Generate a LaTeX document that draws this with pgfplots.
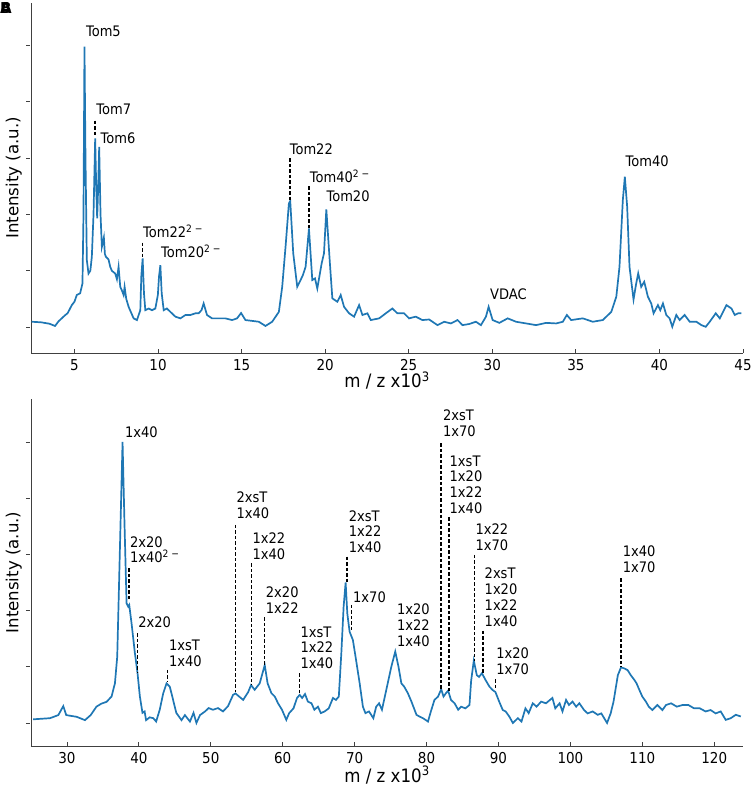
\documentclass[border=0pt]{standalone}
\usepackage{pgfplots}
\pgfplotsset{compat=1.18}
\usepackage{fontspec}
\setmainfont{DejaVu Sans}[FakeStretch=0.9]
\newfontfamily\ylabfont{DejaVu Sans}
\newfontfamily\panelfont{DejaVu Sans Bold}
\definecolor{mplblue}{HTML}{1F77B4}
\newcommand\tf{\fontsize{15}{17}\selectfont}
\newcommand\af{\fontsize{14.5}{15.9}\selectfont}

\pgfplotsset{
  spec/.style={
    scale only axis, width=712pt,
    axis lines*=left,
    axis line style={-, black!75, line width=0.8pt},
    tick align=inside, major tick length=4pt,
    every tick/.style={black!75, line width=0.8pt},
    ytick style={xshift=-5pt},
    ytick={0,0.2,0.4,0.6,0.8,1.0}, yticklabels={},
    /pgf/number format/assume math mode=true,
    xticklabel style={font=\tf, yshift=-3pt},
    ylabel={Intensity (a.u.)},
    ylabel style={font=\ylabfont\fontsize{16.6}{20}\selectfont, at={(axis description cs:-0.024,0.5)}, anchor=center},
    xlabel={m / z x10\textsuperscript{3}},
    xlabel style={font=\fontsize{18.5}{20}\selectfont},
    clip=false,
  },
}
\tikzset{
  ann/.style={anchor=south west, inner sep=0pt, align=left, font=\af},
  dl/.style={dash pattern=on 3.5pt off 2pt, black, line width=1.5pt},
}

\begin{document}
\begin{tikzpicture}
\useasboundingbox (0,0) rectangle (753pt,788pt);
\node[anchor=north west, inner sep=0pt, font=\panelfont\fontsize{15}{15}\selectfont] at (0pt,786pt) {A};
\node[anchor=north west, inner sep=0pt, font=\panelfont\fontsize{15}{15}\selectfont] at (0pt,786pt) {B};

% top panel
\begin{axis}[spec, at={(31pt,435pt)}, anchor=south west, height=350pt,
  xmin=2.4, xmax=45, ymin=-0.092, ymax=1.151,
  xtick={5,10,15,20,25,30,35,40,45},
  xlabel style={at={(axis description cs:0.5,-0.078)}, anchor=center}]
\addplot[mplblue, line width=1.7pt] coordinates {
(2.44,0.019) (3.0,0.017) (3.5,0.012) (3.84,0.004) (4.04,0.02) (4.4,0.04) (4.6,0.05)
(4.84,0.078) (5.0,0.09) (5.14,0.114) (5.34,0.12) (5.48,0.155) (5.54,0.4) (5.60,0.996)
(5.66,0.6) (5.74,0.238) (5.84,0.19) (5.95,0.2) (6.04,0.25) (6.14,0.4) (6.24,0.67)
(6.30,0.5) (6.36,0.386) (6.42,0.5) (6.48,0.64) (6.56,0.4) (6.64,0.285) (6.70,0.3)
(6.76,0.318) (6.82,0.26) (6.88,0.25) (7.04,0.24) (7.14,0.214) (7.24,0.2) (7.44,0.19)
(7.54,0.17) (7.64,0.214) (7.74,0.143) (7.84,0.13) (7.94,0.114) (8.0,0.143) (8.1,0.1)
(8.24,0.072) (8.54,0.031) (8.74,0.025) (8.94,0.06) (9.0,0.18) (9.08,0.244) (9.16,0.12)
(9.24,0.06) (9.44,0.066) (9.64,0.06) (9.84,0.066) (9.99,0.114) (10.06,0.18) (10.14,0.22)
(10.22,0.12) (10.34,0.06) (10.53,0.066) (10.74,0.054) (11.04,0.037) (11.34,0.031)
(11.64,0.043) (11.94,0.043) (12.24,0.049) (12.43,0.049) (12.6,0.06) (12.73,0.084)
(12.93,0.043) (13.23,0.031) (13.63,0.031) (14.03,0.031) (14.43,0.025) (14.73,0.031)
(14.97,0.05) (15.23,0.025) (15.63,0.022) (16.03,0.019) (16.43,0.004) (16.83,0.019)
(17.23,0.054) (17.43,0.143) (17.63,0.285) (17.83,0.439) (17.91,0.448) (18.09,0.262)
(18.33,0.143) (18.53,0.167) (18.67,0.185) (18.83,0.214) (19.03,0.35) (19.23,0.167)
(19.39,0.173) (19.53,0.137) (19.79,0.226) (19.93,0.262) (20.07,0.418) (20.27,0.238)
(20.43,0.102) (20.73,0.09) (20.93,0.114) (21.13,0.072) (21.43,0.049) (21.73,0.037)
(22.03,0.078) (22.23,0.043) (22.53,0.049) (22.73,0.025) (23.23,0.031) (23.63,0.049)
(24.02,0.066) (24.32,0.049) (24.72,0.049) (25.02,0.031) (25.42,0.037) (25.82,0.025)
(26.22,0.027) (26.72,0.007) (27.12,0.019) (27.52,0.013) (27.92,0.025) (28.22,0.007)
(28.62,0.011) (29.02,0.019) (29.32,0.007) (29.62,0.037) (29.78,0.072) (30.02,0.025)
(30.42,0.015) (30.92,0.031) (31.42,0.019) (32.02,0.013) (32.62,0.007) (33.22,0.015)
(33.82,0.013) (34.22,0.019) (34.46,0.043) (34.72,0.025) (35.42,0.031) (36.01,0.019)
(36.61,0.025) (36.82,0.037) (37.12,0.054) (37.42,0.108) (37.61,0.214) (37.81,0.451)
(37.93,0.534) (38.07,0.427) (38.21,0.214) (38.45,0.098) (38.61,0.155) (38.73,0.191)
(38.91,0.143) (39.09,0.161) (39.31,0.108) (39.51,0.084) (39.65,0.049) (39.91,0.078)
(40.05,0.06) (40.21,0.084) (40.41,0.043) (40.61,0.031) (40.77,0.001) (41.01,0.043)
(41.21,0.025) (41.51,0.043) (41.81,0.019) (42.21,0.019) (42.51,0.007) (42.77,0.001)
(43.01,0.019) (43.37,0.049) (43.61,0.031) (44.01,0.078) (44.31,0.066) (44.51,0.043)
(44.71,0.049) (44.91,0.049)
};
\node[ann] at (axis cs:5.68,1.031) {Tom5};
\node[ann] at (axis cs:6.30,0.753) {Tom7};
\draw[dl] (axis cs:6.24,0.733) -- (axis cs:6.24,0.676);
\node[ann] at (axis cs:6.56,0.652) {Tom6};
\node[ann] at (axis cs:9.10,0.315) {Tom22\textsuperscript{2 −}};
\draw[dl] (axis cs:9.08,0.30) -- (axis cs:9.08,0.244);
\node[ann] at (axis cs:10.17,0.244) {Tom20\textsuperscript{2 −}};
\node[ann] at (axis cs:17.87,0.611) {Tom22};
\draw[dl] (axis cs:17.91,0.60) -- (axis cs:17.91,0.451);
\node[ann] at (axis cs:19.07,0.513) {Tom40\textsuperscript{2 −}};
\draw[dl] (axis cs:19.03,0.50) -- (axis cs:19.03,0.35);
\node[ann] at (axis cs:20.07,0.445) {Tom20};
\node[ann] at (axis cs:29.86,0.098) {VDAC};
\node[ann] at (axis cs:37.97,0.57) {Tom40};
\end{axis}

% bottom panel
\begin{axis}[spec, at={(31pt,42pt)}, anchor=south west, height=347pt,
  xmin=25, xmax=124, ymin=-0.082, ymax=1.153,
  xtick={30,40,50,60,70,80,90,100,110,120},
  xlabel style={at={(axis description cs:0.5,-0.084)}, anchor=center}]
\addplot[mplblue, line width=1.7pt] coordinates {
(25.3,0.013) (26.5,0.015) (27.64,0.017) (28.8,0.028) (29.49,0.06) (29.9,0.028)
(30.6,0.025) (31.34,0.022) (32.5,0.01) (33.3,0.028) (34.1,0.058) (34.8,0.069)
(35.5,0.075) (36.2,0.094) (36.67,0.141) (36.99,0.236) (37.2,0.45) (37.45,0.71)
(37.73,1.0) (38.0,0.71) (38.29,0.426) (38.52,0.414) (38.66,0.42) (38.98,0.355)
(39.44,0.25) (39.81,0.178) (40.14,0.094) (40.5,0.036) (40.8,0.041) (41.0,0.01)
(41.5,0.02) (42.0,0.017) (42.4,0.005) (42.9,0.047) (43.38,0.105) (43.85,0.141)
(44.3,0.129) (44.76,0.082) (45.2,0.036) (45.93,0.01) (46.4,0.028) (47.1,0.005)
(47.6,0.036) (48.0,0.0) (48.5,0.028) (49.2,0.041) (49.7,0.053) (50.3,0.047)
(51.0,0.053) (51.7,0.041) (52.4,0.06) (53.1,0.1) (53.43,0.105) (53.9,0.095)
(54.5,0.082) (55.2,0.11) (55.6,0.135) (56.1,0.118) (56.8,0.141) (57.2,0.178)
(57.5,0.206) (57.9,0.141) (58.43,0.106) (58.9,0.094) (59.35,0.07) (59.9,0.047)
(60.5,0.011) (60.9,0.035) (61.5,0.052) (61.99,0.089) (62.36,0.1) (62.7,0.089)
(63.1,0.103) (63.5,0.076) (64.0,0.07) (64.4,0.047) (64.9,0.058) (65.3,0.035)
(65.83,0.041) (66.4,0.052) (66.99,0.089) (67.4,0.082) (67.8,0.094) (68.15,0.248)
(68.47,0.414) (68.75,0.5) (68.98,0.39) (69.3,0.325) (69.76,0.295) (70.2,0.224)
(70.7,0.141) (71.15,0.058) (71.5,0.035) (72.0,0.041) (72.3,0.029) (72.6,0.017)
(73.0,0.058) (73.4,0.07) (73.8,0.047) (74.2,0.094) (74.6,0.141) (75.1,0.2)
(75.65,0.254) (76.1,0.2) (76.5,0.141) (76.9,0.129) (77.4,0.106) (77.9,0.076)
(78.6,0.029) (79.0,0.023) (79.5,0.017) (80.2,0.005) (80.6,0.041) (81.1,0.082)
(81.6,0.094) (82.04,0.12) (82.36,0.094) (82.7,0.106) (83.0,0.115) (83.4,0.082)
(83.9,0.07) (84.4,0.047) (84.8,0.058) (85.4,0.052) (85.97,0.064) (86.2,0.15)
(86.57,0.222) (86.99,0.17) (87.3,0.164) (87.7,0.177) (88.2,0.153) (88.75,0.129)
(89.2,0.117) (89.58,0.11) (90.1,0.076) (90.6,0.046) (91.0,0.041) (91.5,0.023)
(92.0,0.0) (92.7,0.017) (93.2,0.005) (93.75,0.052) (94.2,0.035) (94.77,0.07)
(95.3,0.058) (95.93,0.076) (96.6,0.07) (97.5,0.089) (97.9,0.052) (98.5,0.07)
(98.9,0.041) (99.4,0.082) (99.8,0.064) (100.3,0.076) (100.8,0.058) (101.25,0.07)
(101.9,0.046) (102.4,0.034) (103.1,0.041) (103.8,0.029) (104.3,0.034) (104.7,0.017)
(105.1,0.0) (105.6,0.034) (106.0,0.076) (106.6,0.17) (107.04,0.198) (107.5,0.194)
(107.96,0.188) (108.4,0.17) (108.9,0.153) (109.2,0.141) (109.6,0.117) (110.0,0.094)
(110.5,0.076) (110.9,0.058) (111.4,0.046) (112.1,0.064) (112.8,0.046) (113.3,0.064)
(114.0,0.07) (114.8,0.058) (115.6,0.064) (116.4,0.064) (117.2,0.052) (118.0,0.052)
(118.8,0.041) (119.5,0.046) (120.2,0.034) (120.9,0.041) (121.6,0.011) (122.3,0.017)
(123.0,0.029) (123.7,0.023)
};
\node[ann] at (axis cs:38.06,1.013) {1x40};
\node[ann] at (axis cs:38.75,0.568) {2x20\\1x40\textsuperscript{2 −}};
\draw[dl] (axis cs:38.66,0.55) -- (axis cs:38.66,0.438);
\node[ann] at (axis cs:39.90,0.339) {2x20};
\draw[dl] (axis cs:39.81,0.319) -- (axis cs:39.81,0.177);
\node[ann] at (axis cs:44.17,0.20) {1xsT\\1x40};
\draw[dl] (axis cs:43.98,0.189) -- (axis cs:43.98,0.147);
\node[ann] at (axis cs:53.56,0.728) {2xsT\\1x40};
\draw[dl] (axis cs:53.43,0.705) -- (axis cs:53.43,0.111);
\node[ann] at (axis cs:55.79,0.582) {1x22\\1x40};
\draw[dl] (axis cs:55.65,0.568) -- (axis cs:55.65,0.135);
\node[ann] at (axis cs:57.64,0.39) {2x20\\1x22};
\draw[dl] (axis cs:57.5,0.376) -- (axis cs:57.5,0.206);
\node[ann] at (axis cs:62.45,0.191) {1xsT\\1x22\\1x40};
\draw[dl] (axis cs:62.36,0.177) -- (axis cs:62.36,0.1);
\node[ann] at (axis cs:69.17,0.604) {2xsT\\1x22\\1x40};
\draw[dl] (axis cs:68.93,0.592) -- (axis cs:68.93,0.503);
\node[ann] at (axis cs:69.77,0.428) {1x70};
\draw[dl] (axis cs:69.58,0.42) -- (axis cs:69.58,0.325);
\node[ann] at (axis cs:75.88,0.272) {1x20\\1x22\\1x40};
\node[ann] at (axis cs:82.27,1.017) {2xsT\\1x70};
\draw[dl] (axis cs:82.04,0.995) -- (axis cs:82.04,0.12);
\node[ann] at (axis cs:83.19,0.743) {1xsT\\1x20\\1x22\\1x40};
\draw[dl] (axis cs:83.1,0.732) -- (axis cs:83.1,0.115);
\node[ann] at (axis cs:86.8,0.613) {1x22\\1x70};
\draw[dl] (axis cs:86.67,0.598) -- (axis cs:86.67,0.222);
\node[ann] at (axis cs:88.06,0.343) {2xsT\\1x20\\1x22\\1x40};
\draw[dl] (axis cs:87.82,0.328) -- (axis cs:87.82,0.177);
\node[ann] at (axis cs:89.68,0.171) {1x20\\1x70};
\draw[dl] (axis cs:89.58,0.155) -- (axis cs:89.58,0.117);
\node[ann] at (axis cs:107.27,0.533) {1x40\\1x70};
\draw[dl] (axis cs:107.04,0.515) -- (axis cs:107.04,0.2);
\end{axis}
\end{tikzpicture}
\end{document}
